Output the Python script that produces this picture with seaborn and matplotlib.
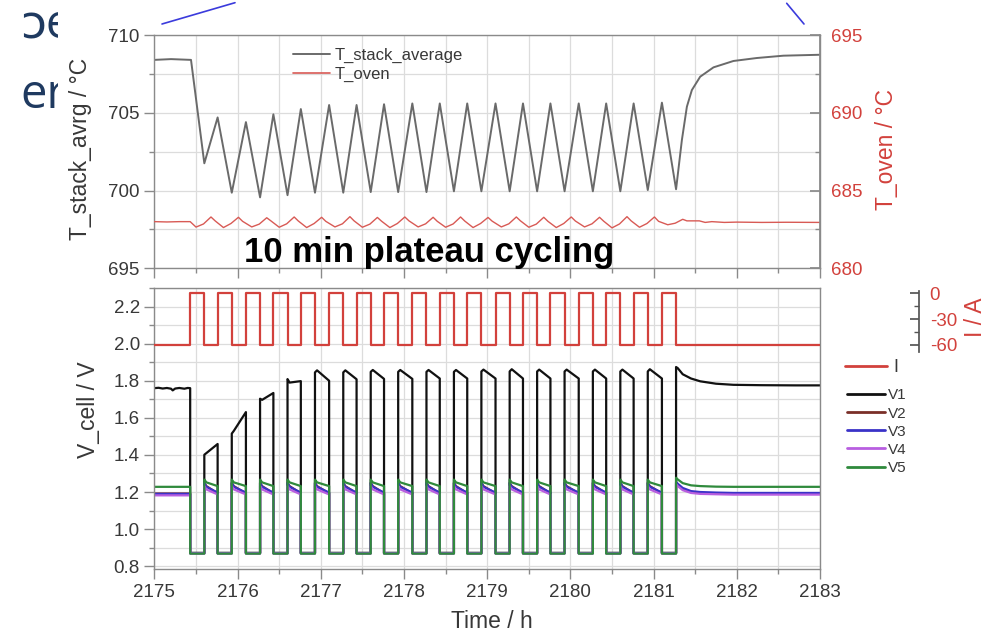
import matplotlib
matplotlib.use("Agg")
import matplotlib.pyplot as plt
import seaborn as sns
from matplotlib.lines import Line2D
from matplotlib.patches import Rectangle
from matplotlib.ticker import MultipleLocator, FixedLocator

# ------------------------------------------------------------------ data
# OCV plateaus (I = 0 A) start / end times in hours
ocv_start = [2175.43, 2175.76, 2176.10, 2176.43, 2176.76, 2177.10, 2177.43, 2177.76, 2178.10,
             2178.43, 2178.76, 2179.10, 2179.43, 2179.76, 2180.10, 2180.43, 2180.76, 2181.10]
ocv_end = [2175.60, 2175.93, 2176.27, 2176.60, 2176.93, 2177.27, 2177.60, 2177.93, 2178.27,
           2178.60, 2178.93, 2179.27, 2179.60, 2179.93, 2180.27, 2180.60, 2180.93, 2181.27]
i_load = -60.0
i_ocv = 0.0

# stack temperature
ts_time = [2175.00, 2175.20, 2175.44, 2175.60, 2175.76, 2175.93, 2176.10, 2176.27, 2176.43,
           2176.60, 2176.76, 2176.93, 2177.10, 2177.27, 2177.43, 2177.60, 2177.76, 2177.93,
           2178.10, 2178.27, 2178.43, 2178.60, 2178.76, 2178.93, 2179.10, 2179.27, 2179.43,
           2179.60, 2179.76, 2179.93, 2180.10, 2180.27, 2180.43, 2180.60, 2180.76, 2180.93,
           2181.10, 2181.27, 2181.34, 2181.40, 2181.46, 2181.56, 2181.72, 2181.96, 2182.24,
           2182.56, 2183.00]
ts_val = [708.40, 708.45, 708.40, 701.75, 704.70, 699.86, 704.40, 699.56, 704.90,
          699.70, 705.24, 699.86, 705.50, 699.86, 705.50, 699.90, 705.55, 699.90,
          705.60, 699.90, 705.60, 699.95, 705.60, 699.95, 705.60, 699.95, 705.60,
          699.95, 705.60, 699.95, 705.60, 699.95, 705.60, 699.95, 705.60, 700.03,
          705.65, 700.08, 703.25, 705.39, 706.46, 707.32, 707.92, 708.33, 708.52,
          708.67, 708.73]

# oven temperature
oven_time = [2175.00, 2175.15, 2175.30, 2175.43,
             2175.50, 2175.59, 2175.68, 2175.73, 2175.83, 2175.92, 2176.01, 2176.06,
             2176.17, 2176.26, 2176.35, 2176.40, 2176.50, 2176.59, 2176.68, 2176.73,
             2176.83, 2176.92, 2177.01, 2177.06, 2177.17, 2177.26, 2177.35, 2177.40,
             2177.50, 2177.59, 2177.68, 2177.73, 2177.83, 2177.92, 2178.01, 2178.06,
             2178.17, 2178.26, 2178.35, 2178.40, 2178.50, 2178.59, 2178.68, 2178.73,
             2178.83, 2178.92, 2179.01, 2179.06, 2179.17, 2179.26, 2179.35, 2179.40,
             2179.50, 2179.59, 2179.68, 2179.73, 2179.83, 2179.92, 2180.01, 2180.06,
             2180.17, 2180.26, 2180.35, 2180.40, 2180.50, 2180.59, 2180.68, 2180.73,
             2180.83, 2180.92, 2181.01, 2181.06, 2181.17, 2181.26, 2181.35, 2181.40,
             2181.55, 2181.62, 2181.70, 2181.85, 2182.00, 2182.30, 2182.60, 2183.00]
oven_val = [683.00, 682.98, 683.00, 683.00,
            682.65, 682.85, 683.30, 683.05, 682.62, 682.88, 683.28, 683.02,
            682.66, 682.84, 683.25, 683.05, 682.64, 682.86, 683.30, 683.04,
            682.62, 682.88, 683.28, 683.02, 682.66, 682.86, 683.32, 683.05,
            682.64, 682.84, 683.27, 683.03, 682.62, 682.88, 683.30, 683.05,
            682.66, 682.86, 683.28, 683.02, 682.64, 682.85, 683.30, 683.04,
            682.62, 682.88, 683.27, 683.03, 682.66, 682.86, 683.30, 683.05,
            682.64, 682.84, 683.28, 683.02, 682.62, 682.88, 683.30, 683.04,
            682.66, 682.86, 683.28, 683.03, 682.60, 682.85, 683.32, 683.05,
            682.64, 682.88, 683.30, 683.02, 682.80, 682.90, 683.15, 683.05,
            683.05, 682.95, 683.00, 682.95, 682.97, 682.95, 682.96, 682.95]

# cell voltages: pre-cycling, per-load-plateau (start, early, end), OCV level, final plateau
v_fin_time = [2181.27, 2181.29, 2181.35, 2181.45, 2181.56, 2181.75, 2181.96, 2182.30, 2182.70, 2183.00]

v1_pre_time = [2175.00, 2175.05, 2175.10, 2175.15, 2175.20, 2175.22, 2175.25, 2175.30, 2175.36, 2175.40, 2175.43]
v1_pre = [1.760, 1.762, 1.758, 1.761, 1.757, 1.748, 1.758, 1.761, 1.757, 1.761, 1.760]
v1_start = [1.401, 1.515, 1.703, 1.809, 1.845, 1.845, 1.848, 1.848, 1.848, 1.848, 1.850, 1.850, 1.850, 1.850, 1.850, 1.850, 1.850]
v1_early = [1.410, 1.530, 1.697, 1.790, 1.856, 1.856, 1.858, 1.858, 1.858, 1.858, 1.860, 1.862, 1.860, 1.860, 1.860, 1.860, 1.862]
v1_end = [1.459, 1.631, 1.734, 1.798, 1.800, 1.808, 1.810, 1.810, 1.812, 1.812, 1.812, 1.812, 1.812, 1.812, 1.812, 1.812, 1.812]
v1_ocv = 0.872
v1_fin = [1.874, 1.868, 1.835, 1.812, 1.797, 1.784, 1.778, 1.776, 1.775, 1.775]

v2_pre = [1.192, 1.192]
v2_start = [1.250, 1.250, 1.250, 1.250, 1.250, 1.250, 1.250, 1.250, 1.250, 1.250, 1.250, 1.250, 1.250, 1.250, 1.250, 1.250, 1.250]
v2_early = [1.232, 1.232, 1.232, 1.232, 1.232, 1.232, 1.232, 1.232, 1.232, 1.232, 1.232, 1.232, 1.232, 1.232, 1.232, 1.232, 1.232]
v2_end = [1.193, 1.193, 1.193, 1.193, 1.193, 1.193, 1.193, 1.193, 1.193, 1.193, 1.193, 1.193, 1.193, 1.193, 1.193, 1.193, 1.193]
v2_ocv = 0.870
v2_fin = [1.250, 1.240, 1.216, 1.200, 1.195, 1.192, 1.191, 1.191, 1.191, 1.191]

v3_pre = [1.190, 1.190]
v3_start = [1.249, 1.249, 1.249, 1.249, 1.249, 1.249, 1.249, 1.249, 1.249, 1.249, 1.249, 1.249, 1.249, 1.249, 1.249, 1.249, 1.249]
v3_early = [1.228, 1.228, 1.228, 1.228, 1.228, 1.228, 1.228, 1.228, 1.228, 1.228, 1.228, 1.228, 1.228, 1.228, 1.228, 1.228, 1.228]
v3_end = [1.197, 1.197, 1.197, 1.197, 1.197, 1.197, 1.197, 1.197, 1.197, 1.197, 1.197, 1.197, 1.197, 1.197, 1.197, 1.197, 1.197]
v3_ocv = 0.870
v3_fin = [1.255, 1.245, 1.222, 1.205, 1.200, 1.197, 1.195, 1.195, 1.195, 1.195]

v4_pre = [1.182, 1.182]
v4_start = [1.232, 1.232, 1.232, 1.232, 1.232, 1.232, 1.232, 1.232, 1.232, 1.232, 1.232, 1.232, 1.232, 1.232, 1.232, 1.232, 1.232]
v4_early = [1.214, 1.214, 1.214, 1.214, 1.214, 1.214, 1.214, 1.214, 1.214, 1.214, 1.214, 1.214, 1.214, 1.214, 1.214, 1.214, 1.214]
v4_end = [1.187, 1.187, 1.187, 1.187, 1.187, 1.187, 1.187, 1.187, 1.187, 1.187, 1.187, 1.187, 1.187, 1.187, 1.187, 1.187, 1.187]
v4_ocv = 0.869
v4_fin = [1.242, 1.232, 1.210, 1.195, 1.190, 1.188, 1.186, 1.186, 1.186, 1.186]

v5_pre = [1.228, 1.228]
v5_start = [1.267, 1.267, 1.267, 1.267, 1.267, 1.267, 1.267, 1.267, 1.267, 1.267, 1.267, 1.267, 1.267, 1.267, 1.267, 1.267, 1.267]
v5_early = [1.252, 1.252, 1.252, 1.252, 1.252, 1.252, 1.252, 1.252, 1.252, 1.252, 1.252, 1.252, 1.252, 1.252, 1.252, 1.252, 1.252]
v5_end = [1.232, 1.232, 1.232, 1.232, 1.232, 1.232, 1.232, 1.232, 1.232, 1.232, 1.232, 1.232, 1.232, 1.232, 1.232, 1.232, 1.232]
v5_ocv = 0.868
v5_fin = [1.277, 1.268, 1.248, 1.236, 1.232, 1.229, 1.228, 1.228, 1.228, 1.228]

EARLY_DT = 0.025  # knot position of the early point inside a load plateau (h)


def build_series(pre_t, pre_v, seg_s, seg_e, seg_end, ocv_val, fin_t, fin_v):
    xs, ys = list(pre_t), list(pre_v)
    for k in range(len(ocv_start)):
        xs += [ocv_start[k], ocv_end[k]]
        ys += [ocv_val, ocv_val]
        if k < len(seg_s):
            t0, t1 = ocv_end[k], ocv_start[k + 1]
            xs += [t0, t0 + EARLY_DT, t1]
            ys += [seg_s[k], seg_e[k], seg_end[k]]
    xs += list(fin_t)
    ys += list(fin_v)
    return xs, ys


def build_current():
    xs, ys = [2175.0], [i_load]
    for s, e in zip(ocv_start, ocv_end):
        xs += [s, s, e, e]
        ys += [i_load, i_ocv, i_ocv, i_load]
    xs += [2183.0]
    ys += [i_load]
    return xs, ys


# ------------------------------------------------------------------ style
sns.set_theme(style="white")
plt.rcParams['font.family'] = ['Liberation Sans', 'DejaVu Sans']
plt.rcParams['axes.unicode_minus'] = False

TXT = '#383838'
SPINE = '#8a8a8a'
GRID = '#dcdcdc'
RED = '#d2413c'

fig = plt.figure(figsize=(9.99, 6.35), dpi=100)
W, H = 999.0, 635.0
ax_t = fig.add_axes([154.4 / W, 1 - 268.3 / H, 665.6 / W, 233.3 / H])
ax_b = fig.add_axes([154.4 / W, 1 - 569.0 / H, 665.6 / W, 281.0 / H])


def style_main(ax):
    ax.set_axisbelow(True)
    ax.grid(which='both', color=GRID, lw=0.9)
    for s in ax.spines.values():
        s.set_color(SPINE)
        s.set_linewidth(1.0)
    ax.tick_params(axis='both', which='major', direction='out', length=7, width=1,
                   color=SPINE, labelsize=13.5, labelcolor=TXT, pad=3.5,
                   left=True, bottom=True)
    ax.tick_params(axis='both', which='minor', direction='out', length=3.5, width=1,
                   color=SPINE, left=True, bottom=True)
    ax.set_xlabel('')
    ax.set_ylabel('')


# ------------------------------------------------------------------ top panel
sns.lineplot(x=ts_time, y=ts_val, ax=ax_t, color='#6a6a6a', lw=1.4, sort=False,
             estimator=None, legend=False)
ax_t.set_xlim(2175, 2183)
ax_t.set_ylim(695, 710)
ax_t.xaxis.set_major_locator(MultipleLocator(1))
ax_t.xaxis.set_minor_locator(MultipleLocator(0.5))
ax_t.yaxis.set_major_locator(MultipleLocator(5))
ax_t.yaxis.set_minor_locator(MultipleLocator(2.5))
style_main(ax_t)
ax_t.tick_params(labelbottom=False)

ax_to = ax_t.twinx()
sns.lineplot(x=oven_time, y=oven_val, ax=ax_to, color='#d85a55', lw=1.0, sort=False,
             estimator=None, legend=False)
ax_to.set_ylim(680, 695)
ax_to.set_xlim(2175, 2183)
ax_to.yaxis.set_major_locator(MultipleLocator(5))
ax_to.yaxis.set_minor_locator(MultipleLocator(2.5))
for n, s in ax_to.spines.items():
    s.set_visible(n == 'right')
    s.set_color(SPINE)
ax_to.tick_params(axis='y', which='major', direction='in', length=7, color=SPINE,
                  labelsize=13.5, labelcolor=RED, pad=8)
ax_to.tick_params(axis='y', which='minor', direction='in', length=3.5, color=SPINE)
ax_to.set_ylabel('')
ax_to.grid(False)

leg_t = ax_to.legend(handles=[Line2D([], [], color='#6a6a6a', lw=1.4),
                              Line2D([], [], color='#d85a55', lw=1.2)],
                     labels=['T_stack_average', 'T_oven'],
                     loc='upper left', bbox_to_anchor=(0.208, 0.943), frameon=False,
                     fontsize=12, handlelength=2.2, handletextpad=0.3,
                     labelspacing=0.2, borderpad=0, borderaxespad=0)
for t in leg_t.get_texts():
    t.set_color(TXT)

# ------------------------------------------------------------------ bottom panel
v_specs = [
    ('V1', '#111111', v1_pre_time, v1_pre, v1_start, v1_early, v1_end, v1_ocv, v1_fin),
    ('V2', '#7a2f28', [2175.0, ocv_start[0]], v2_pre, v2_start, v2_early, v2_end, v2_ocv, v2_fin),
    ('V3', '#3a32c8', [2175.0, ocv_start[0]], v3_pre, v3_start, v3_early, v3_end, v3_ocv, v3_fin),
    ('V4', '#b85ee0', [2175.0, ocv_start[0]], v4_pre, v4_start, v4_early, v4_end, v4_ocv, v4_fin),
    ('V5', '#2f8a3c', [2175.0, ocv_start[0]], v5_pre, v5_start, v5_early, v5_end, v5_ocv, v5_fin),
]
v_handles = []
for name, col, pt, pv, ss, se, sn, ov, fv in v_specs:
    xs, ys = build_series(pt, pv, ss, se, sn, ov, v_fin_time, fv)
    sns.lineplot(x=xs, y=ys, ax=ax_b, color=col, lw=1.6, sort=False, estimator=None,
                 legend=False)
    v_handles.append(Line2D([], [], color=col, lw=2.0))

ax_b.set_xlim(2175, 2183)
ax_b.set_ylim(0.785, 2.3)
ax_b.xaxis.set_major_locator(MultipleLocator(1))
ax_b.xaxis.set_minor_locator(MultipleLocator(0.5))
ax_b.yaxis.set_major_locator(FixedLocator([0.8, 1.0, 1.2, 1.4, 1.6, 1.8, 2.0, 2.2]))
ax_b.yaxis.set_minor_locator(MultipleLocator(0.1))
ax_b.yaxis.set_major_formatter(matplotlib.ticker.FormatStrFormatter('%.1f'))
ax_b.xaxis.set_major_formatter(matplotlib.ticker.FormatStrFormatter('%d'))
style_main(ax_b)
ax_b.tick_params(axis='x', pad=4)

ax_bi = ax_b.twinx()
ix, iy = build_current()
sns.lineplot(x=ix, y=iy, ax=ax_bi, color=RED, lw=1.6, sort=False, estimator=None,
             legend=False)
ax_bi.set_xlim(2175, 2183)
ax_bi.set_ylim(-321, 6.4)
for n, s in ax_bi.spines.items():
    s.set_visible(n == 'right')
ax_bi.spines['right'].set_position(('outward', 71))
ax_bi.spines['right'].set_bounds(-68, 3)
ax_bi.spines['right'].set_color('#555555')
ax_bi.yaxis.set_major_locator(FixedLocator([0, -30, -60]))
ax_bi.yaxis.set_minor_locator(FixedLocator([-15, -45]))
ax_bi.tick_params(axis='y', which='major', direction='in', length=6.5, color='#555555',
                  labelsize=13.5, labelcolor=RED, pad=8)
ax_bi.tick_params(axis='y', which='minor', direction='in', length=3.5, color='#555555')
ax_bi.set_ylabel('')
ax_bi.grid(False)

leg_i = fig.legend(handles=[Line2D([], [], color=RED, lw=2.0)], labels=['I'],
                   loc='upper left', bbox_to_anchor=(845 / W, 1 - 359 / H), frameon=False,
                   fontsize=13, handlelength=2.33, handletextpad=0.33, borderpad=0,
                   borderaxespad=0)
leg_v = fig.legend(handles=v_handles, labels=['V1', 'V2', 'V3', 'V4', 'V5'],
                   loc='upper left', bbox_to_anchor=(846.7 / W, 1 - 388.4 / H), frameon=False,
                   fontsize=11, handlelength=2.5, handletextpad=0.2, labelspacing=0.27,
                   borderpad=0, borderaxespad=0)
for lg in (leg_i, leg_v):
    for t in lg.get_texts():
        t.set_color(TXT)

# ------------------------------------------------------------------ labels
fig.text(81 / W, 1 - 148.5 / H, 'T_stack_avrg / °C', rotation=90, ha='center', va='center',
         fontsize=16.5, color=TXT)
fig.text(88 / W, 1 - 410 / H, 'V_cell / V', rotation=90, ha='center', va='center',
         fontsize=16.5, color=TXT)
fig.text(491.5 / W, 1 - 621 / H, 'Time / h', ha='center', va='center', fontsize=16.5,
         color=TXT)
fig.text(886 / W, 1 - 150 / H, 'T_oven / °C', rotation=90, ha='center', va='center',
         fontsize=16.5, color=RED)
fig.text(975 / W, 1 - 317.5 / H, 'I / A', rotation=90, ha='center', va='center',
         fontsize=16.5, color=RED)
fig.text(244 / W, 1 - 261.7 / H, '10 min plateau cycling', ha='left', va='baseline',
         fontsize=25, fontweight='bold', color='black')

# slide fragments behind the chart
clip = Rectangle((0, 0), 58 / W, 1, transform=fig.transFigure, facecolor='none',
                 edgecolor='none')
fig.add_artist(clip)
for txt, y in (('ɔe', 38), ('er', 108)):
    t = fig.text(20 / W, 1 - y / H, txt, ha='left', va='baseline', fontsize=34,
                 color='#1f3a60', family=['Open Sans', 'DejaVu Sans'])
    t.set_clip_path(clip)

fig.add_artist(Line2D([162 / W, 235 / W], [1 - 24 / H, 1 - 2.7 / H], transform=fig.transFigure,
                      color='#3b3bdc', lw=1.2))
fig.add_artist(Line2D([786.7 / W, 804 / W], [1 - 3.3 / H, 1 - 24 / H], transform=fig.transFigure,
                      color='#3b3bdc', lw=1.2))

fig.savefig('out.png', dpi=100)
